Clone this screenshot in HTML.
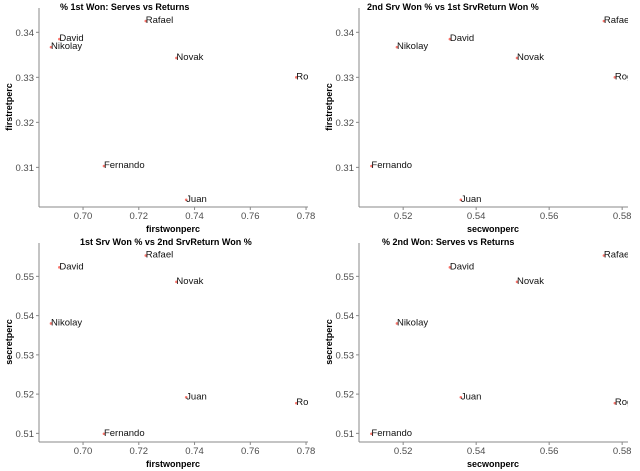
<!DOCTYPE html>
<html><head><meta charset="utf-8"><style>
html,body{margin:0;padding:0;background:#fff;}
svg{display:block;font-family:"Liberation Sans",sans-serif;}
</style></head><body>
<svg id="c" width="640" height="471"></svg>
<script>
const players = ["Rafael","David","Nikolay","Novak","Roger","Fernando","Juan"];
const firstwonperc = [0.7225,0.6915,0.6885,0.7335,0.7765,0.7075,0.737];
const firstretperc = [0.3425,0.3385,0.3367,0.3343,0.3300,0.3103,0.3028];
const secwonperc = [0.575,0.5328,0.5183,0.5512,0.578,0.5113,0.5358];
const secretperc = [0.5553,0.5523,0.538,0.5486,0.5177,0.5099,0.5192];
const firstwonTicks = ["0.70","0.72","0.74","0.76","0.78"];
const secwonTicks = ["0.52","0.54","0.56","0.58"];
const firstretTicks = ["0.31","0.32","0.33","0.34"];
const secretTicks = ["0.51","0.52","0.53","0.54","0.55"];

const NS="http://www.w3.org/2000/svg";
const svg=document.getElementById('c');
function mk(t,a,p){const e=document.createElementNS(NS,t);for(const k in a)e.setAttribute(k,a[k]);(p||svg).appendChild(e);return e;}
const L=39,R=308,T=8,B=207;
const panels=[
 {ox:0,oy:0,title:"% 1st Won: Serves vs Returns",tx:60,xs:firstwonperc,ys:firstretperc,xd:[0.6842,0.7807],yd:[0.3012,0.3454],xt:firstwonTicks,yt:firstretTicks,xl:"firstwonperc",yl:"firstretperc",n:"serve-return-1st"},
 {ox:320,oy:0,title:"2nd Srv Won % vs 1st SrvReturn Won %",tx:47,xs:secwonperc,ys:firstretperc,xd:[0.5079,0.5816],yd:[0.3012,0.3454],xt:secwonTicks,yt:firstretTicks,xl:"secwonperc",yl:"firstretperc",n:"2nd-serve-vs-1st-return"},
 {ox:0,oy:235,title:"1st Srv Won % vs 2nd SrvReturn Won %",tx:80,xs:firstwonperc,ys:secretperc,xd:[0.6842,0.7807],yd:[0.5078,0.5585],xt:firstwonTicks,yt:secretTicks,xl:"firstwonperc",yl:"secretperc",n:"1st-serve-vs-2nd-return"},
 {ox:320,oy:235,title:"% 2nd Won: Serves vs Returns",tx:62,xs:secwonperc,ys:secretperc,xd:[0.5079,0.5816],yd:[0.5078,0.5585],xt:secwonTicks,yt:secretTicks,xl:"secwonperc",yl:"secretperc",n:"serve-return-2nd"}
];
panels.forEach((p,i)=>{
 const g=mk('g',{transform:`translate(${p.ox},${p.oy})`});
 
 
 const sx=v=>L+(v-p.xd[0])/(p.xd[1]-p.xd[0])*(R-L);
 const sy=v=>B-(v-p.yd[0])/(p.yd[1]-p.yd[0])*(B-T);
 const cp=mk('clipPath',{id:'cp'+i},g);mk('rect',{x:L,y:0,width:R-L,height:B},cp);
 const t=mk('text',{x:p.tx,y:10,'font-size':9,'font-weight':'bold',fill:'#000'},g);t.textContent=p.title;
 
 mk('line',{x1:L,y1:T,x2:L,y2:B,stroke:'#888','stroke-width':1},g);
 mk('line',{x1:L,y1:B,x2:R,y2:B,stroke:'#888','stroke-width':1},g);
 p.xt.forEach(s=>{const x=sx(+s);mk('line',{x1:x,y1:B,x2:x,y2:B+3,stroke:'#888'},g);
  const e=mk('text',{x:x,y:B+12,'font-size':9.5,fill:'#4d4d4d','text-anchor':'middle'},g);e.textContent=s;
  });
 p.yt.forEach(s=>{const y=sy(+s);mk('line',{x1:L-3,y1:y,x2:L,y2:y,stroke:'#888'},g);
  const e=mk('text',{x:L-5,y:y+3.5,'font-size':9.5,fill:'#4d4d4d','text-anchor':'end'},g);e.textContent=s;
  });
 const xt=mk('text',{x:173,y:232,'font-size':9,'font-weight':'bold','text-anchor':'middle'},g);xt.textContent=p.xl;
 
 const yt=mk('text',{transform:'translate(12,107) rotate(-90)','font-size':9,'font-weight':'bold','text-anchor':'middle'},g);yt.textContent=p.yl;
 
 const pg=mk('g',{'clip-path':`url(#cp${i})`},g);
 players.forEach((n,j)=>{const x=sx(p.xs[j]),y=sy(p.ys[j]);
  const c=mk('circle',{cx:x,cy:y,r:1.3,fill:'#F8766D'},pg);
  
  const l=mk('text',{x:x,y:y+2,'font-size':9.5,fill:'#111'},pg);l.textContent=n;
  });
});
</script>
</body></html>
